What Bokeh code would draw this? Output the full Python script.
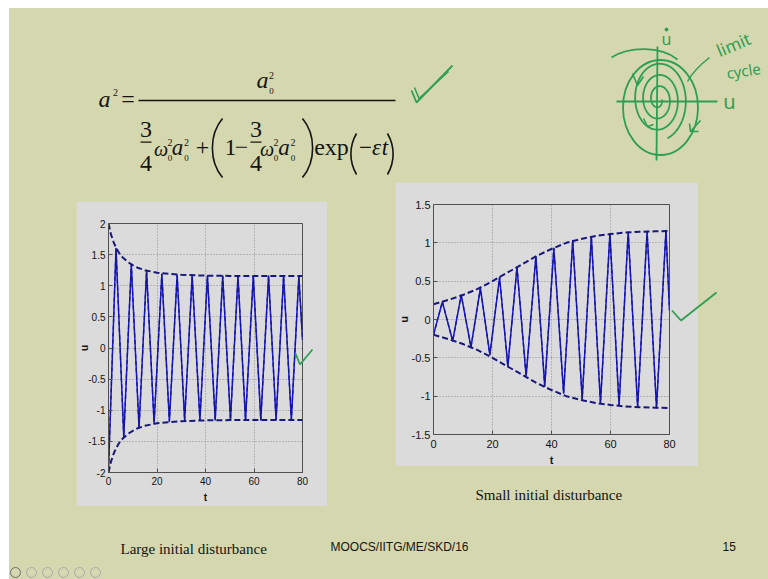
import numpy as np
from bokeh.plotting import figure
from bokeh.layouts import row, column
from bokeh.models import Spacer, FixedTicker, Range1d, CustomJSTickFormatter
from bokeh.core.properties import value
from bokeh.embed import file_html
from bokeh.resources import INLINE

# ---------------------------------------------------------------- data
# large initial disturbance (a0 = 2): oscillation vertices and envelope
large_t = [0.0, 3.1, 6.3, 9.4, 12.6, 15.7, 18.8, 22.0, 25.1, 28.3, 31.4, 34.5,
           37.7, 40.8, 44.0, 47.1, 50.3, 53.4, 56.5, 59.7, 62.8, 66.0, 69.1,
           72.2, 75.4, 78.5, 80.0]
large_u = [-1.95, 1.60, -1.43, 1.34, -1.28, 1.24, -1.21, 1.19, -1.18, 1.17,
           -1.165, 1.16, -1.16, 1.16, -1.155, 1.155, -1.155, 1.155, -1.155,
           1.155, -1.155, 1.155, -1.155, 1.155, -1.155, 1.155, 0.13]
large_env_t = [0, 1, 2, 3, 4, 5, 6, 8, 10, 12, 15, 20, 25, 30, 40, 50, 60, 70, 80]
large_env_u = [2.0, 1.83, 1.71, 1.62, 1.55, 1.49, 1.45, 1.38, 1.33, 1.29, 1.25,
               1.21, 1.19, 1.175, 1.163, 1.158, 1.156, 1.155, 1.155]

# small initial disturbance (a0 = 0.2)
small_t = [0.0, 3.0, 6.5, 9.4, 12.7, 15.9, 19.1, 22.4, 25.2, 28.3, 31.4, 34.7,
           37.7, 40.8, 44.1, 47.2, 50.4, 53.5, 56.6, 59.8, 62.9, 66.0, 69.2,
           72.4, 75.6, 78.8, 80.0]
small_u = [-0.20, 0.23, -0.28, 0.32, -0.36, 0.41, -0.46, 0.55, -0.61, 0.68,
           -0.74, 0.82, -0.87, 0.93, -0.96, 1.03, -1.04, 1.08, -1.09, 1.12,
           -1.12, 1.14, -1.14, 1.15, -1.15, 1.16, 0.12]
small_env_t = [0, 5, 10, 15, 20, 25, 30, 35, 40, 45, 50, 55, 60, 65, 70, 75, 80]
small_env_u = [0.20, 0.255, 0.32, 0.40, 0.50, 0.61, 0.72, 0.83, 0.92, 1.00,
               1.05, 1.09, 1.115, 1.135, 1.145, 1.15, 1.155]

x_ticks = [0, 20, 40, 60, 80]
large_y_ticks = [-2, -1.5, -1, -0.5, 0, 0.5, 1, 1.5, 2]
small_y_ticks = [-1.5, -1, -0.5, 0, 0.5, 1, 1.5]

caption_large = "Large initial disturbance"
caption_small = "Small initial disturbance"
footer_text = "MOOCS/IITG/ME/SKD/16"
page_number = "15"

# ---------------------------------------------------------------- styles
BEIGE = "#d5d8ae"
PANEL = "#dbdbdb"
AXIS = "#505050"
CURVE = "#1414e6"
DASH = "#18187c"
GREEN = "#2f9e55"
INK = "#141414"
SERIF = value("Liberation Serif")
SANS = value("Liberation Sans")


def canvas(w, h, x0, x1, y_top, y_bot, fill=BEIGE):
    c = figure(width=w, height=h, x_range=Range1d(x0, x1),
               y_range=Range1d(y_bot, y_top), output_backend="svg",
               toolbar_location=None, tools="", min_border=0,
               x_axis_location=None, y_axis_location=None)
    c.background_fill_color = fill
    c.border_fill_color = fill
    c.outline_line_color = None
    c.grid.visible = False
    return c


def response_plot(w, h, borders, ylim, yticks, t, u, env_t, env_u,
                  tick_size, x_standoff):
    left, right, top, bottom = borders
    p = figure(width=w, height=h, x_range=Range1d(0, 80), y_range=Range1d(*ylim),
               output_backend="svg", toolbar_location=None, tools="",
               min_border_left=left, min_border_right=right,
               min_border_top=top, min_border_bottom=bottom)
    p.background_fill_color = PANEL
    p.border_fill_color = PANEL
    p.outline_line_color = AXIS
    p.outline_line_width = 1
    p.xaxis.ticker = FixedTicker(ticks=x_ticks)
    p.yaxis.ticker = FixedTicker(ticks=yticks)
    for ax in p.axis:
        ax.formatter = CustomJSTickFormatter(code="return String(tick)")
        ax.major_tick_in = 4
        ax.major_tick_out = 0
        ax.minor_tick_line_color = None
        ax.axis_line_color = AXIS
        ax.major_tick_line_color = AXIS
        ax.major_label_text_font = "Liberation Sans"
        ax.major_label_text_font_size = tick_size
        ax.major_label_text_color = INK
    p.yaxis.major_label_standoff = 3
    p.xaxis.major_label_standoff = x_standoff
    p.grid.grid_line_color = "#8c8c8c"
    p.grid.grid_line_dash = "1 2"
    p.grid.grid_line_width = 1

    p.line(t, u, line_color=CURVE, line_width=1.5, line_join="round")
    p.line(t, u, line_color=DASH, line_width=1.3, line_dash="4 3")
    p.line(env_t, env_u, line_color=DASH, line_width=2.0, line_dash="6 3")
    p.line(env_t, [-v for v in env_u], line_color=DASH, line_width=2.0,
           line_dash="6 3")
    return p


# ---------------------------------------------------------------- head: formula and sketch
head = canvas(759, 174, 9, 768, 8, 182)


def put(txt, x, base, size, style="normal"):
    # glyphs are placed by their baseline; text is drawn centred on the em box
    head.text(x=[x], y=[base - 0.3375 * size], text=[txt], text_font=SERIF,
              text_font_size=f"{size}px", text_font_style=style,
              text_align="center", text_baseline="middle", text_color=INK)


def pair(x, base):
    # superscript 2 over subscript 0
    put("2", x, base - 10, 10)
    put("0", x, base + 6, 9)


put("a", 104, 107, 24, "italic")
put("2", 115, 95, 10)
put("=", 127.5, 107, 24)
head.segment(x0=[138], y0=[100], x1=[395], y1=[100], line_color=INK, line_width=1.3)

put("a", 262, 88, 24, "italic")
pair(271, 88)

for cx in (145.5, 255.5):
    put("3", cx, 137, 24)
    put("4", cx, 171, 24)
    head.segment(x0=[cx - 5.5], y0=[141.7], x1=[cx + 5.5], y1=[141.7],
                 line_color=INK, line_width=1.2)

put("ω", 160.5, 155, 20, "italic")
pair(169.5, 155)
put("a", 177, 155, 23, "italic")
pair(186, 155)
put("+", 202, 155, 24)
put("1", 230, 155, 24)
put("−", 241, 155, 24)
put("ω", 266.5, 155, 20, "italic")
pair(275.5, 155)
put("a", 283.5, 155, 23, "italic")
pair(292.5, 155)
put("exp", 331, 155, 24)
put("−", 365, 155, 23)
put("ε", 376, 155, 23, "italic")
put("t", 384.5, 155, 23, "italic")

# tall parentheses
head.bezier(x0=[222, 302, 356, 387], y0=[118, 118, 133, 133],
            x1=[222, 302, 356, 387], y1=[177, 177, 174, 174],
            cx0=[208.5, 315.5, 348.5, 394.5], cy0=[134, 134, 146, 146],
            cx1=[208.5, 315.5, 348.5, 394.5], cy1=[161, 161, 161, 161],
            line_color=INK, line_width=1.6)

# green tick next to the formula
head.line([411, 416, 452], [90, 102, 65], line_color=GREEN, line_width=1.8)
head.line([414, 418.5, 448], [87, 98, 71], line_color=GREEN, line_width=1.5)

# phase-plane sketch: axes, spiral, limit cycle
head.segment(x0=[616, 657], y0=[101, 46], x1=[717, 656], y1=[101, 160],
             line_color=GREEN, line_width=1.8)
theta = np.linspace(0, 2 * np.pi * 3.2, 320)
rad = 4 + 30 * theta / theta[-1]
head.line(658 + 0.85 * rad * np.cos(theta), 99 + 1.2 * rad * np.sin(theta),
          line_color=GREEN, line_width=1.8)
head.ellipse(x=[660], y=[107], width=[75], height=[95], fill_color=None,
             line_color=GREEN, line_width=1.8)
head.bezier(x0=[611], y0=[57], x1=[677], y1=[59], cx0=[628], cy0=[46],
            cx1=[660], cy1=[45], line_color=GREEN, line_width=1.8)
head.bezier(x0=[709], y0=[57], x1=[687], y1=[81], cx0=[700], cy0=[64],
            cx1=[692], cy1=[72], line_color=GREEN, line_width=1.5)
# arrow heads
head.line([632, 637, 643], [73, 85, 76], line_color=GREEN, line_width=1.6)
head.line([700, 690], [120, 131], line_color=GREEN, line_width=1.6)
head.line([689, 690, 698], [123, 131, 131], line_color=GREEN, line_width=1.6)
head.line([643, 647, 653], [118, 126, 124], line_color=GREEN, line_width=1.5)
# hand-written labels
hand = dict(text_font=value("Noto Sans"), text_color=GREEN, text_align="center",
            text_baseline="middle")
head.text(x=[666], y=[38], text=["u"], text_font_size="16px", **hand)
head.scatter(x=[666], y=[29], size=3, color=GREEN)
head.text(x=[729], y=[101], text=["u"], text_font_size="20px", **hand)
head.text(x=[733], y=[44], text=["limit"], text_font_size="17px", angle=0.40, **hand)
head.text(x=[743], y=[70], text=["cycle"], text_font_size="15px", angle=0.15, **hand)

# ---------------------------------------------------------------- response plots
large_plot = response_plot(251, 305, (32, 25, 22, 34), (-2, 2), large_y_ticks,
                           large_t, large_u, large_env_t, large_env_u, "10px", 4)
small_plot = response_plot(303, 284, (38, 29, 22, 32), (-1.5, 1.5), small_y_ticks,
                           small_t, small_u, small_env_t, small_env_u, "11px", 5)

side = canvas(70, 284, 698, 768, 182, 466)

caption = canvas(373, 44, 395, 768, 466, 510)
caption.text(x=[475], y=[494], text=[caption_small], text_font=SERIF,
             text_font_size="15px", text_align="left", text_baseline="middle",
             text_color=INK)

bottom = canvas(759, 69, 9, 768, 510, 579)
bottom.text(x=[120], y=[548], text=[caption_large], text_font=SERIF,
            text_font_size="15px", text_align="left", text_baseline="middle",
            text_color=INK)
bottom.text(x=[330], y=[546], text=[footer_text], text_font=SANS,
            text_font_size="12px", text_align="left", text_baseline="middle",
            text_color=INK)
bottom.text(x=[722], y=[546], text=[page_number], text_font=SANS,
            text_font_size="12px", text_align="left", text_baseline="middle",
            text_color=INK)
bottom.scatter(x=[15, 31, 47, 63, 79, 95], y=[572] * 6, size=10, fill_color=None,
               line_color=["#6a6a6a"] + ["#a8a8a8"] * 5, line_width=1)

# transparent top layer: axis names and the hand-drawn ticks crossing the panels
overlay = canvas(768, 579, 0, 768, 0, 579, fill=None)
axis_name = dict(text_font=SANS, text_font_style="bold", text_color=INK,
                 text_align="center", text_baseline="middle")
overlay.text(x=[84], y=[347.5], text=["u"], angle=np.pi / 2,
             text_font_size="10px", **axis_name)
overlay.text(x=[205], y=[497], text=["t"], text_font_size="10px", **axis_name)
overlay.text(x=[403.5], y=[319], text=["u"], angle=np.pi / 2,
             text_font_size="11px", **axis_name)
overlay.text(x=[551], y=[459], text=["t"], text_font_size="11px", **axis_name)
overlay.line([295, 299.5, 312], [353, 364, 349], line_color=GREEN, line_width=1.8)
overlay.line([671.5, 680.5, 716], [310, 320, 292], line_color=GREEN, line_width=1.8)
overlay.styles = {"position": "absolute", "left": "0px", "top": "0px",
                  "z-index": "10"}

# ---------------------------------------------------------------- layout
left_col = column(Spacer(width=386, height=19),
                  row(Spacer(width=67, height=305), large_plot,
                      Spacer(width=68, height=305)),
                  Spacer(width=386, height=4))
right_col = column(row(small_plot, side), caption)
body = column(head, row(left_col, right_col), bottom,
              styles={"background-color": BEIGE})
slide = row(Spacer(width=9, height=579),
            column(Spacer(width=759, height=8), body))
page = column(slide, overlay)

open("out.html", "w").write(file_html(page, INLINE))
